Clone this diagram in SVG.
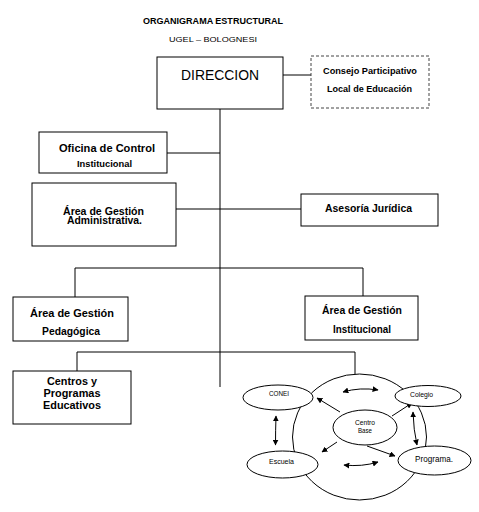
<svg xmlns="http://www.w3.org/2000/svg" width="479" height="512" viewBox="0 0 479 512">
<defs>
<marker id="ah" viewBox="0 0 10 10" refX="9" refY="5" markerWidth="6" markerHeight="6" markerUnits="userSpaceOnUse" orient="auto-start-reverse">
<path d="M0,0 L10,5 L0,10 z" fill="#000"/>
</marker>
<style>
.box{fill:#fff;stroke:#000;stroke-width:1}
.dash{fill:#fff;stroke:#444;stroke-width:1;stroke-dasharray:3 2}
.ln{stroke:#000;stroke-width:1;fill:none}
.ar{stroke:#000;stroke-width:1;fill:none;marker-end:url(#ah)}
.dar{stroke:#000;stroke-width:1;fill:none;marker-start:url(#ah);marker-end:url(#ah)}
.el{fill:#fff;stroke:#000;stroke-width:1}
.t{font-family:"Liberation Sans",Arial,sans-serif;text-anchor:middle;fill:#000}
.b{font-weight:bold}
</style>
</defs>
<rect width="479" height="512" fill="#fff"/>

<g id="title">
<text class="t b" x="213" y="23.5" font-size="8.5" textLength="140" lengthAdjust="spacingAndGlyphs">ORGANIGRAMA ESTRUCTURAL</text>
<text class="t" x="213" y="41.5" font-size="8" textLength="88" lengthAdjust="spacingAndGlyphs">UGEL – BOLOGNESI</text>
</g>

<g id="connectors">
<line class="ln" x1="283" y1="75" x2="311" y2="75"/>
<line class="ln" x1="220" y1="109" x2="220" y2="387"/>
<line class="ln" x1="167" y1="153" x2="220" y2="153"/>
<line class="ln" x1="176" y1="209" x2="301" y2="209"/>
<polyline class="ln" points="75,297 75,268 363,268 363,296"/>
<polyline class="ln" points="77,371 77,352 355,352 355,374"/>
</g>

<g id="direccion">
<rect class="box" x="157" y="57" width="126" height="52"/>
<text class="t" x="220" y="80" font-size="14" textLength="78" lengthAdjust="spacingAndGlyphs">DIRECCION</text>
</g>

<g id="consejo">
<rect class="dash" x="311" y="56" width="118" height="52"/>
<text class="t b" x="370" y="74" font-size="9" textLength="94" lengthAdjust="spacingAndGlyphs">Consejo Participativo</text>
<text class="t b" x="369.5" y="92" font-size="9" textLength="85" lengthAdjust="spacingAndGlyphs">Local de Educación</text>
</g>

<g id="oficina">
<rect class="box" x="39" y="132" width="128" height="41"/>
<text class="t b" x="107" y="151.5" font-size="10" textLength="96" lengthAdjust="spacingAndGlyphs">Oficina de Control</text>
<text class="t b" x="104.5" y="167.3" font-size="8.5" textLength="55" lengthAdjust="spacingAndGlyphs">Institucional</text>
</g>

<g id="administrativa">
<rect class="box" x="32" y="183" width="144" height="63"/>
<text class="t b" x="103.5" y="214.5" font-size="10" textLength="81" lengthAdjust="spacingAndGlyphs">Área de Gestión</text>
<text class="t b" x="104.5" y="224" font-size="10" textLength="75" lengthAdjust="spacingAndGlyphs">Administrativa.</text>
</g>

<g id="asesoria">
<rect class="box" x="301" y="194" width="137" height="32"/>
<text class="t b" x="368.5" y="211.7" font-size="10" textLength="87" lengthAdjust="spacingAndGlyphs">Asesoría Jurídica</text>
</g>

<g id="pedagogica">
<rect class="box" x="13" y="297" width="115" height="44"/>
<text class="t b" x="72" y="317.3" font-size="10" textLength="84" lengthAdjust="spacingAndGlyphs">Área de Gestión</text>
<text class="t b" x="71" y="335" font-size="10" textLength="58" lengthAdjust="spacingAndGlyphs">Pedagógica</text>
</g>

<g id="institucional">
<rect class="box" x="305" y="296" width="113" height="44"/>
<text class="t b" x="362" y="314" font-size="10" textLength="80" lengthAdjust="spacingAndGlyphs">Área de Gestión</text>
<text class="t b" x="362" y="333.3" font-size="10" textLength="58" lengthAdjust="spacingAndGlyphs">Institucional</text>
</g>

<g id="centros">
<rect class="box" x="13" y="371" width="118" height="53"/>
<text class="t b" x="72" y="385" font-size="11" textLength="50" lengthAdjust="spacingAndGlyphs">Centros y</text>
<text class="t b" x="72" y="397" font-size="11" textLength="57" lengthAdjust="spacingAndGlyphs">Programas</text>
<text class="t b" x="72" y="409.3" font-size="11" textLength="58" lengthAdjust="spacingAndGlyphs">Educativos</text>
</g>

<g id="circulo">
<ellipse class="el" cx="359.5" cy="437" rx="67" ry="63"/>
</g>

<g id="circle-arrows">
<path class="dar" d="M343,392 Q360,387 378,390"/>
<path class="dar" d="M344,465 Q362,467 378,462"/>
<path class="dar" d="M276,416 Q275.5,430 275.5,445"/>
<path class="dar" d="M413,412 Q413.5,430 417,445"/>
<line class="ar" x1="340" y1="412" x2="317" y2="398"/>
<line class="ar" x1="337" y1="442" x2="322" y2="452"/>
<line class="ar" x1="392" y1="416" x2="412" y2="403"/>
<line class="ar" x1="367" y1="446" x2="395" y2="456"/>
</g>

<g id="conei">
<ellipse class="el" cx="278" cy="397.5" rx="35" ry="12.5"/>
<text class="t" x="279" y="396" font-size="6.5" textLength="20" lengthAdjust="spacingAndGlyphs">CONEI</text>
</g>

<g id="escuela">
<ellipse class="el" cx="282.5" cy="464.5" rx="35.5" ry="13.5"/>
<text class="t" x="281.5" y="464" font-size="6.5" textLength="25" lengthAdjust="spacingAndGlyphs">Escuela</text>
</g>

<g id="centro-base">
<ellipse class="el" cx="365" cy="427.5" rx="32" ry="17.5" stroke-width="1.8"/>
<text class="t" x="365" y="425" font-size="6.5" textLength="20" lengthAdjust="spacingAndGlyphs">Centro</text>
<text class="t" x="365" y="432.7" font-size="6.5" textLength="14" lengthAdjust="spacingAndGlyphs">Base</text>
</g>

<g id="colegio">
<ellipse class="el" cx="428" cy="396" rx="33" ry="10.5"/>
<text class="t" x="421.5" y="397.3" font-size="6.5" textLength="23" lengthAdjust="spacingAndGlyphs">Colegio</text>
</g>

<g id="programa">
<ellipse class="el" cx="434.5" cy="460.5" rx="36.5" ry="14.5"/>
<text class="t" x="434" y="462.3" font-size="8.5" textLength="38" lengthAdjust="spacingAndGlyphs">Programa.</text>
</g>
</svg>
